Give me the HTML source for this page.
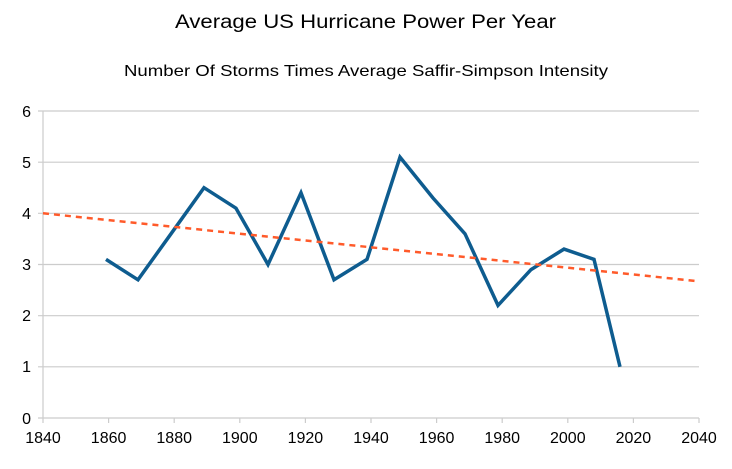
<!DOCTYPE html>
<html><head><style>body{margin:0;background:#fff}svg{display:block}text{font-family:"Liberation Sans",sans-serif;fill:#000}</style></head>
<body>
<svg width="732" height="469" viewBox="0 0 732 469">
<text x="175" y="28" font-size="19" textLength="381" lengthAdjust="spacingAndGlyphs">Average US Hurricane Power Per Year</text>
<text x="124" y="76" font-size="16" textLength="484" lengthAdjust="spacingAndGlyphs">Number Of Storms Times Average Saffir-Simpson Intensity</text>
<g stroke="#cccccc" stroke-width="1.2">
<line x1="38" y1="111" x2="699" y2="111"/>
<line x1="38" y1="162.2" x2="699" y2="162.2"/>
<line x1="38" y1="213.3" x2="699" y2="213.3"/>
<line x1="38" y1="264.5" x2="699" y2="264.5"/>
<line x1="38" y1="315.7" x2="699" y2="315.7"/>
<line x1="38" y1="366.8" x2="699" y2="366.8"/>
<line x1="38" y1="418" x2="699" y2="418"/>
<line x1="43" y1="111" x2="43" y2="423"/>
<line x1="108.6" y1="418" x2="108.6" y2="423"/><line x1="174.2" y1="418" x2="174.2" y2="423"/><line x1="239.8" y1="418" x2="239.8" y2="423"/><line x1="305.4" y1="418" x2="305.4" y2="423"/><line x1="371" y1="418" x2="371" y2="423"/><line x1="436.6" y1="418" x2="436.6" y2="423"/><line x1="502.2" y1="418" x2="502.2" y2="423"/><line x1="567.8" y1="418" x2="567.8" y2="423"/><line x1="633.4" y1="418" x2="633.4" y2="423"/><line x1="699" y1="418" x2="699" y2="423"/>
</g>
<g font-size="16" text-anchor="end">
<text x="31" y="117">6</text><text x="31" y="168">5</text><text x="31" y="219">4</text><text x="31" y="270">3</text><text x="31" y="321">2</text><text x="31" y="372">1</text><text x="31" y="424">0</text>
</g>
<g font-size="16" text-anchor="middle">
<text x="43" y="443">1840</text><text x="108.6" y="443">1860</text><text x="174.2" y="443">1880</text><text x="239.8" y="443">1900</text><text x="305.4" y="443">1920</text><text x="371" y="443">1940</text><text x="436.6" y="443">1960</text><text x="502.2" y="443">1980</text><text x="567.8" y="443">2000</text><text x="633.4" y="443">2020</text><text x="699" y="443">2040</text>
</g>
<polyline fill="none" stroke="#0e5c8f" stroke-width="3.5" stroke-linejoin="miter" points="106,259.4 138,279.8 171,233.8 204,187.7 236,208.2 268,264.5 301,192.8 334,279.8 367,259.4 400,157.1 433,198 465,233.8 498,305.4 531,269.6 564,249.1 594,259.4 620,366.8"/>
<line x1="43" y1="213.3" x2="699" y2="281.3" stroke="#ff5a2a" stroke-width="2.5" stroke-dasharray="6,5"/>
</svg>
</body></html>
